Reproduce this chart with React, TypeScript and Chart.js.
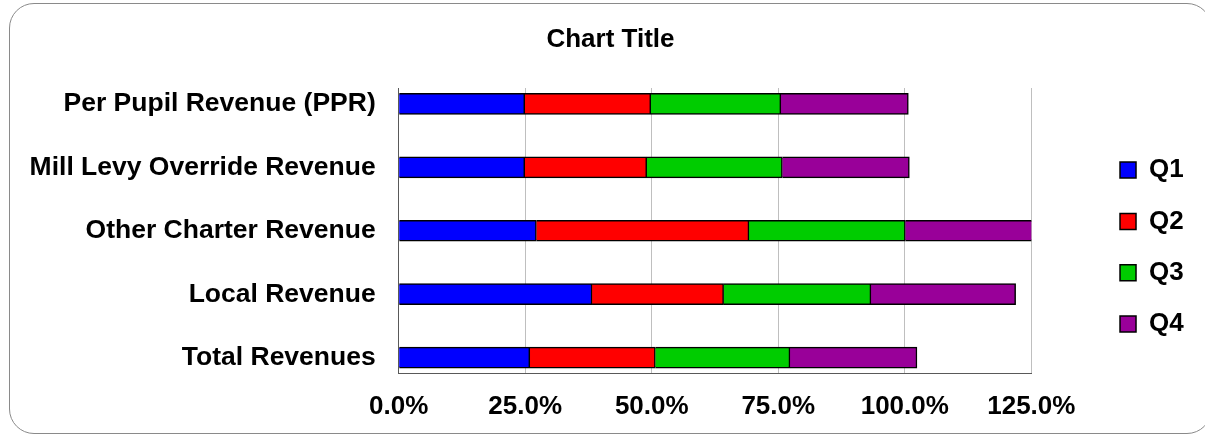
import { useEffect, useRef } from 'react';
import { Chart, registerables } from 'chart.js';

Chart.register(...registerables);

const categories = [
  'Per Pupil Revenue (PPR)',
  'Mill Levy Override Revenue',
  'Other Charter Revenue',
  'Local Revenue',
  'Total Revenues',
];
const seriesNames = ['Q1', 'Q2', 'Q3', 'Q4'];
const q1 = [24.9, 24.9, 27.2, 38.2, 25.9];
const q2 = [24.9, 24.1, 42.0, 26.0, 24.8];
const q3 = [25.7, 26.8, 30.9, 29.1, 26.6];
const q4 = [25.2, 25.1, 26.0, 28.6, 25.1];
const seriesColors = ['#0000FF', '#FF0000', '#00CC00', '#990099'];
const xTicks = [0, 25, 50, 75, 100, 125];
const chartTitle = 'Chart Title';

const FONT = '"Liberation Sans", Arial, Helvetica, sans-serif';
const Y_MIN = -0.25;
const Y_MAX = 4.25;

export default function App() {
  const ref = useRef<HTMLCanvasElement>(null);

  useEffect(() => {
    const canvas = ref.current;
    if (!canvas) return;
    const series = [q1, q2, q3, q4];
    const chart = new Chart(canvas, {
      type: 'bar',
      data: {
        datasets: series.map((vals, s) => ({
          label: seriesNames[s],
          data: vals.map((v, i) => ({ x: v, y: i })),
          backgroundColor: seriesColors[s],
          borderColor: '#000000',
          borderWidth: 1.5,
          borderSkipped: 'start',
          barThickness: 21,
          xAxisID: 'x',
          yAxisID: 'y',
          clip: 0,
        })),
      },
      options: {
        indexAxis: 'y',
        animation: false,
        responsive: false,
        maintainAspectRatio: false,
        layout: { padding: { left: 27.3, right: 11.3, top: 0, bottom: 0 } },
        scales: {
          x: {
            type: 'linear',
            position: 'bottom',
            min: 0,
            max: 125,
            stacked: true,
            afterBuildTicks: (s: any) => {
              s.ticks = xTicks.map((v) => ({ value: v }));
              s.min = 0;
              s.max = 125;
            },
            afterFit: (s: any) => {
              s.height = 61.5;
            },
            ticks: {
              callback: (v: any) => Number(v).toFixed(1) + '%',
              font: { family: FONT, size: 26, weight: 'bold' },
              color: '#000000',
              padding: 17.5,
              maxRotation: 0,
              autoSkip: false,
            },
            grid: { color: '#bfbfbf', lineWidth: 1, drawTicks: false },
            border: { display: true, color: '#595959', width: 1 },
          },
          y: {
            type: 'linear',
            position: 'left',
            min: Y_MIN,
            max: Y_MAX,
            bounds: 'data',
            offset: false,
            grace: 0,
            reverse: true,
            stacked: true,
            afterBuildTicks: (s: any) => {
              s.ticks = categories.map((_, i) => ({ value: i }));
              s.min = Y_MIN;
              s.max = Y_MAX;
            },
            afterFit: (s: any) => {
              s.width = 371.4;
            },
            ticks: {
              callback: (v: any) => categories[Math.round(Number(v))] ?? '',
              font: { family: FONT, size: 26.5, weight: 'bold' },
              color: '#000000',
              padding: 23,
              autoSkip: false,
            },
            grid: { display: false, drawTicks: false, offset: false },
            border: { display: true, color: '#595959', width: 1 },
          },
          yr: {
            type: 'linear',
            position: 'right',
            display: true,
            afterFit: (s: any) => {
              s.width = 63.4;
            },
            ticks: { display: false },
            grid: { display: false, drawTicks: false },
            border: { display: false },
          },
        },
        plugins: {
          title: {
            display: true,
            text: chartTitle,
            color: '#000000',
            font: { family: FONT, size: 26, weight: 'bold' },
            padding: { top: 24.5, bottom: 32.3 },
          },
          legend: {
            display: true,
            position: 'right',
            align: 'center',
            fullSize: false,
            title: {
              display: true,
              text: '',
              padding: 0,
              font: { family: FONT, size: 10, lineHeight: 3.26 },
            },
            labels: {
              boxWidth: 16,
              boxHeight: 16,
              padding: 25.3,
              color: '#000000',
              font: { family: FONT, size: 26, weight: 'bold' },
            },
          },
          tooltip: { enabled: false },
        },
      },
    } as any);
    return () => chart.destroy();
  }, []);

  return (
    <div
      style={{
        position: 'fixed',
        left: 0,
        top: 0,
        width: 1205,
        height: 435,
        overflow: 'hidden',
        background: '#ffffff',
      }}
    >
      <div
        style={{
          position: 'absolute',
          left: 9,
          top: 3,
          width: 1203,
          height: 431,
          border: '1px solid #8a8a8a',
          borderRadius: 25,
          boxSizing: 'border-box',
        }}
      />
      <canvas
        ref={ref}
        width={1205}
        height={435}
        style={{ position: 'absolute', left: 0, top: 0, width: 1205, height: 435 }}
      />
    </div>
  );
}
